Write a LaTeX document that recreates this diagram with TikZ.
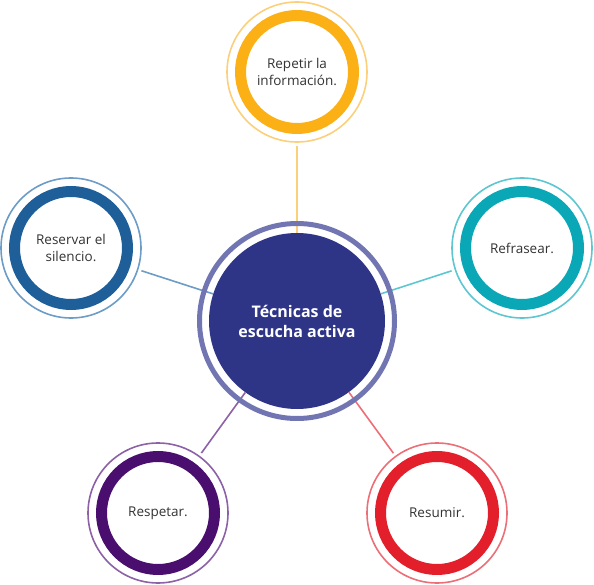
\documentclass[tikz,border=0pt]{standalone}
\usepackage{fontspec}
\setmainfont{Open Sans}
\usetikzlibrary{calc}
\definecolor{centroazul}{HTML}{2E3587}
\definecolor{centroaro}{HTML}{7176B3}
\definecolor{amarillo}{HTML}{FBB116}
\definecolor{amarillosuave}{HTML}{FCD07A}
\definecolor{azul}{HTML}{1E5F9A}
\definecolor{azulsuave}{HTML}{6C9CC7}
\definecolor{turquesa}{HTML}{0AA8B7}
\definecolor{turquesasuave}{HTML}{5DC7D1}
\definecolor{morado}{HTML}{4A0F6E}
\definecolor{moradosuave}{HTML}{8D61A7}
\definecolor{rojo}{HTML}{E21F2A}
\definecolor{rojosuave}{HTML}{EC6F77}

\begin{document}
\begin{tikzpicture}[
        x=1pt, y=-1pt,
        centro/.style={
            circle,
            minimum size=176pt,
            inner sep=0pt,
            fill=centroazul,
            text=white,
            align=center,
            font=\fontsize{16}{20}\selectfont\bfseries
        },
        tecnica/.style={
            circle,
            minimum size=113pt,
            inner sep=0pt,
            line width=11pt,
            align=center,
            text=black!80,
            font=\fontsize{13.5}{17}\selectfont
        },
        enlace/.style={line width=1.6pt, shorten >=12pt}
    ]
        \useasboundingbox (0,0) rectangle (594,585);
        \node[centro] (central) at (297,321) {Técnicas de\\escucha activa};
        \foreach \nombre/\px/\py/\texto/\tono in {
            repetir/297/72/{Repetir la\\información.}/amarillo,
            reservar/71/248/{Reservar el\\silencio.}/azul,
            refrasear/522/248/{Refrasear.}/turquesa,
            respetar/158/513/{Respetar.}/morado,
            resumir/437/513/{Resumir.}/rojo%
        } {
            \node[tecnica, draw=\tono] (\nombre) at (\px,\py) {\texto};
            \draw[\tono suave, line width=1.6pt] (\nombre.center) circle[radius=70pt];
            \draw[\tono suave, enlace] (central) -- (\nombre);
        }
        \draw[centroaro, line width=5pt] (central.center) circle[radius=97.5pt];
    \end{tikzpicture}
\end{document}
